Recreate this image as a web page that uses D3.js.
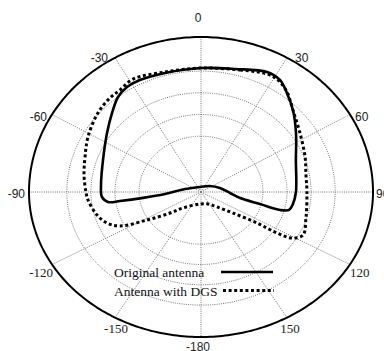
<!DOCTYPE html>
<html><head><meta charset="utf-8">
<script src="https://cdn.jsdelivr.net/npm/d3@7"></script>
<style>html,body{margin:0;padding:0;background:#fff;}svg{display:block;}</style>
</head><body>
<svg id="chart" width="384" height="351"></svg>
<script>
// ---- data ----
const angleTicks = [0, 30, 60, 90, 120, 150, 180, -150, -120, -90, -60, -30];
const tickLabels = ["0", "30", "60", "90", "120", "150", "-180", "-150", "-120", "-90", "-60", "-30"];
const ringValues = [0.36, 0.5, 0.64, 0.78];
const seriesNames = ["Original antenna", "Antenna with DGS"];
const solidAngles = [0, 14, 26.4, 32.4, 38, 45.3, 55.4, 69.5, 90, 98.8, 103.6, 105.1, 103.6, 100.3, 92.4, 76.7, 53.1, -10, -78.5, -93.8, -96.9, -97.5, -97.3, -93.4, -85.6, -70.1, -55.1, -45.4, -38.2, -32.4, -26.2, -15.2];
const solidValues = [0.80, 0.818, 0.864, 0.856, 0.811, 0.752, 0.671, 0.589, 0.552, 0.541, 0.527, 0.476, 0.353, 0.231, 0.169, 0.113, 0.065, 0.033, 0.095, 0.209, 0.339, 0.475, 0.545, 0.577, 0.583, 0.606, 0.666, 0.726, 0.780, 0.802, 0.805, 0.796];
const dgsAngles = [0, 16.1, 26.8, 31.8, 37.8, 45.3, 56.5, 69.5, 79.8, 90, 106.4, 116.6, 121.0, 122.6, 123.3, 127.9, 137.9, 153.7, -175.9, -136.3, -128.9, -121.6, -116.4, -111.4, -104.7, -94.8, -90, -80.8, -71.5, -61.6, -49.6, -41.1, -35.6, -28.5, -15.1];
const dgsValues = [0.80, 0.819, 0.853, 0.850, 0.816, 0.752, 0.690, 0.646, 0.620, 0.616, 0.636, 0.663, 0.617, 0.525, 0.390, 0.236, 0.139, 0.092, 0.083, 0.152, 0.231, 0.369, 0.526, 0.587, 0.625, 0.659, 0.669, 0.689, 0.711, 0.747, 0.787, 0.805, 0.809, 0.829, 0.802];

// ---- layout ----
const cx = 201, cy = 192;
const rX = d3.scaleLinear().domain([0, 1]).range([0, 172]);
const rYTop = d3.scaleLinear().domain([0, 1]).range([0, 155]);
const rYBot = d3.scaleLinear().domain([0, 1]).range([0, 145]);
function project(theta, f) {
  const t = theta * Math.PI / 180, s = Math.sin(t), c = Math.cos(t);
  return [cx + rX(f) * s, cy - (c >= 0 ? rYTop(f) : rYBot(f)) * c];
}
const svg = d3.select("#chart");
const ellipseLine = d3.line().x(d => d[0]).y(d => d[1]);
const fullTurn = d3.range(0, 361, 1);

// rings
svg.append("g").selectAll("path").data(ringValues).join("path")
  .attr("d", v => ellipseLine(fullTurn.map(a => project(a, v))))
  .attr("fill", "none").attr("stroke", "#777").attr("stroke-width", 1)
  .attr("stroke-dasharray", "1,1.2");
// spokes
svg.append("g").selectAll("line").data(angleTicks).join("line")
  .attr("x1", cx).attr("y1", cy)
  .attr("x2", a => project(a, 1)[0]).attr("y2", a => project(a, 1)[1])
  .attr("stroke", "#777").attr("stroke-width", 1).attr("stroke-dasharray", "1,1.2");
// outer ellipse
svg.append("path").attr("d", ellipseLine(fullTurn.map(a => project(a, 1))))
  .attr("fill", "none").attr("stroke", "#000").attr("stroke-width", 2);

// angle labels
function labelPos(a) {
  const p = project(a, 1);
  const ab = Math.abs(a);
  if (a === 0) return {x: p[0] - 3, y: p[1] - 15, anchor: "middle"};
  if (ab === 180) return {x: p[0] - 3, y: p[1] + 14, anchor: "middle"};
  if (ab === 150) return {x: p[0] + (a < 0 ? 1 : 3), y: p[1] + 15, anchor: "middle"};
  if (ab === 120) return {x: p[0] + (a < 0 ? 1 : 0), y: p[1] + 12, anchor: a < 0 ? "end" : "start"};
  if (ab === 90) return {x: p[0] + (a < 0 ? -4 : 3), y: p[1] + 6, anchor: a < 0 ? "end" : "start"};
  if (ab === 60) return {x: p[0] + (a < 0 ? -5 : 5), y: p[1] + 6, anchor: a < 0 ? "end" : "start"};
  return {x: p[0] + (a < 0 ? -7 : 8), y: p[1] + 4, anchor: a < 0 ? "end" : "start"};
}
svg.append("g").selectAll("text").data(angleTicks).join("text")
  .each(function(a, i) {
    const L = labelPos(a);
    const serif = Math.abs(a) === 120 || Math.abs(a) === 150;
    d3.select(this).attr("x", L.x).attr("y", L.y).attr("text-anchor", L.anchor)
      .attr("font-family", serif ? "'Liberation Serif', 'Times New Roman', serif" : "'Liberation Sans', Arial, sans-serif")
      .attr("font-size", serif ? 13 : 12).attr("fill", "#222").text(tickLabels[i]);
  });

// curves
const curveLine = d3.line().x(d => d[0]).y(d => d[1]).curve(d3.curveCatmullRomClosed.alpha(0.5));
const solidPts = solidAngles.map((a, i) => project(a, solidValues[i]));
const dgsPts = dgsAngles.map((a, i) => project(a, dgsValues[i]));
svg.append("path").attr("d", curveLine(dgsPts)).attr("fill", "none")
  .attr("stroke", "#000").attr("stroke-width", 3).attr("stroke-dasharray", "3,2.6");
svg.append("path").attr("d", curveLine(solidPts)).attr("fill", "none")
  .attr("stroke", "#000").attr("stroke-width", 2.6).attr("stroke-linejoin", "round");

// legend
const legend = svg.append("g").attr("font-family", "'Liberation Serif', 'Times New Roman', serif").attr("font-size", 13.5);
const legY = d3.scalePoint().domain(seriesNames).range([272, 291]);
legend.selectAll("text").data(seriesNames).join("text")
  .attr("x", 114).attr("y", d => legY(d) + 4.5).attr("fill", "#111").text(d => d);
legend.append("line").attr("x1", 221).attr("x2", 273).attr("y1", legY(seriesNames[0])).attr("y2", legY(seriesNames[0]))
  .attr("stroke", "#000").attr("stroke-width", 2.6);
legend.append("line").attr("x1", 223).attr("x2", 274).attr("y1", legY(seriesNames[1]) - 0.5).attr("y2", legY(seriesNames[1]) - 0.5)
  .attr("stroke", "#000").attr("stroke-width", 3).attr("stroke-dasharray", "3,2.6");
</script>
</body></html>
